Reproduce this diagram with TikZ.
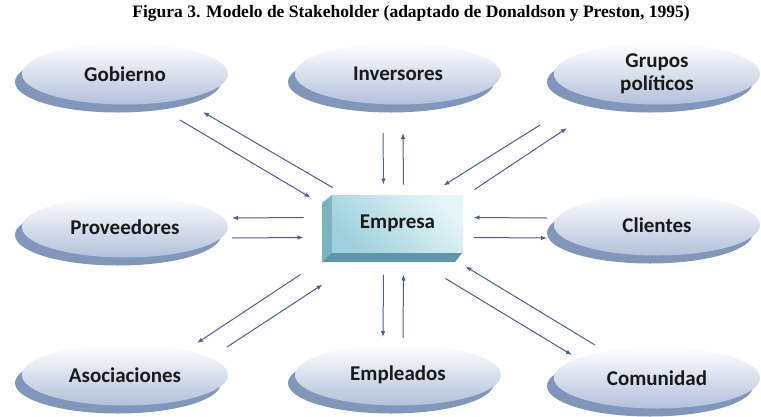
\documentclass[tikz,border=0pt]{standalone}
\usepackage{fontspec}
\setmainfont{Liberation Serif}
\newfontfamily\labelfont{Carlito}
\usepackage{tikz}
\usetikzlibrary{arrows.meta,shapes.geometric,shadows}

\definecolor{diskface}{HTML}{B2C0DB}
\definecolor{diskedge}{HTML}{8296BA}
\definecolor{boxlight}{HTML}{E6F5F8}
\definecolor{boxdark}{HTML}{9FD0DC}
\definecolor{boxside}{HTML}{7DB3C1}
\definecolor{boxbottom}{HTML}{5E98A8}
\definecolor{arrowblue}{HTML}{4E5E8E}

\begin{document}
\begin{tikzpicture}
  [x=1pt,y=-1pt,
  stake/.style={ellipse, top color=white, bottom color=diskface,
    minimum width=206pt, minimum height=61pt, inner sep=0pt,
    general shadow={fill=diskedge, shadow xshift=-7pt, shadow yshift=-8pt},
    font=\labelfont\bfseries\fontsize{21}{23}\selectfont,
    text=black!90, align=center},
  company/.style={rectangle, left color=boxdark, right color=boxlight,
    shading angle=135, minimum width=131pt, minimum height=57pt,
    font=\labelfont\bfseries\fontsize{21}{23}\selectfont, text=black!90},
  line/.style={draw=arrowblue, line width=1pt,
    -{Latex[length=6pt,width=4.5pt]}}]
  \useasboundingbox (0,0) rectangle (761,416);
  \node[font=\bfseries\fontsize{17.5}{20}\selectfont] (title) at (411,13)
  {Figura 3. Modelo de Stakeholder (adaptado de Donaldson y Preston, 1995)};
  % stakeholders
  \node[stake] (gob) at (125,74) {Gobierno};
  \node[stake] (inv) at (398,74) {Inversores};
  \node[stake] (gru) at (657,74) {Grupos\\pol\'iticos};
  \node[stake] (pro) at (125,227) {Proveedores};
  \node[stake] (cli) at (657,225) {Clientes};
  \node[stake] (aso) at (125,375) {Asociaciones};
  \node[stake] (empl) at (398,375) {Empleados};
  \node[stake] (com) at (657,378) {Comunidad};
  % the firm, drawn as a box
  \fill[boxside] (332,195) -- (322,203) -- (322,262) -- (332,252) -- cycle;
  \fill[boxbottom] (322,262) -- (332,252) -- (463,252) -- (455,262) -- cycle;
  \node[company] (emp) at (397.5,223.5) {Empresa};
  \begin{scope}[every path/.style=line]
    \path ([shift={(55,46)}]gob.center) -- ([shift={(-87,-26)}]emp.center);
    \path ([shift={(-65,-36)}]emp.center) -- ([shift={(78,38)}]gob.center);
    \path ([shift={(-15,59)}]inv.center) -- ([shift={(-14,-39)}]emp.center);
    \path ([shift={(6,-39)}]emp.center) -- ([shift={(5,59)}]inv.center);
    \path ([shift={(-117,51)}]gru.center) -- ([shift={(46,-38)}]emp.center);
    \path ([shift={(77,-34)}]emp.center) -- ([shift={(-90,54)}]gru.center);
    \path ([shift={(-94,-6)}]emp.center) -- ([shift={(107,-9)}]pro.center);
    \path ([shift={(107,11)}]pro.center) -- ([shift={(-94,14)}]emp.center);
    \path ([shift={(-110,-7)}]cli.center) -- ([shift={(76,-6)}]emp.center);
    \path ([shift={(76,14)}]emp.center) -- ([shift={(-110,13)}]cli.center);
    \path ([shift={(-97,51)}]emp.center) -- ([shift={(72,-32)}]aso.center);
    \path ([shift={(102,-28)}]aso.center) -- ([shift={(-75,61)}]emp.center);
    \path ([shift={(-14,51)}]emp.center) -- ([shift={(-15,-38)}]empl.center);
    \path ([shift={(5,-37)}]empl.center) -- ([shift={(6,51)}]emp.center);
    \path ([shift={(48,55)}]emp.center) -- ([shift={(-85,-23)}]com.center);
    \path ([shift={(-62,-33)}]com.center) -- ([shift={(68,43)}]emp.center);
  \end{scope}
\end{tikzpicture}
\end{document}
